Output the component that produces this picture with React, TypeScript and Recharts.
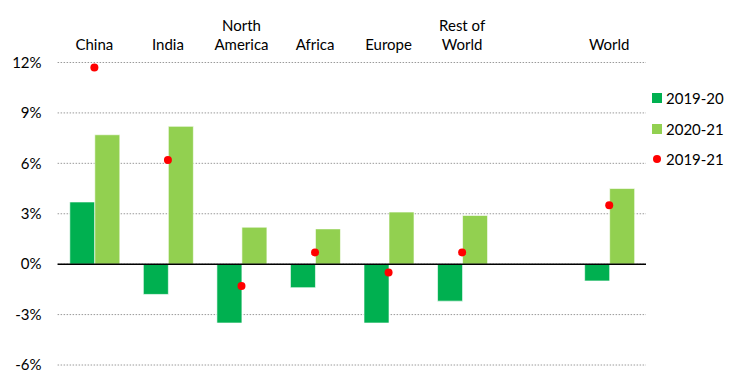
import { ComposedChart, Bar, Line, XAxis, YAxis, CartesianGrid, ReferenceLine } from 'recharts';

// Regions along the top axis; the blank slot separates World from the rest
const regions = ['China', 'India', 'North\nAmerica', 'Africa', 'Europe', 'Rest of\nWorld', ' ', 'World'];
const growth1920 = [3.7, -1.8, -3.5, -1.4, -3.5, -2.2, null, -1.0];
const growth2021 = [7.7, 8.2, 2.2, 2.1, 3.1, 2.9, null, 4.5];
const growth1921 = [11.7, 6.2, -1.3, 0.7, -0.5, 0.7, null, 3.5];
const yTicks = [-6, -3, 0, 3, 6, 9, 12];

const DARK_GREEN = '#00B050';
const LIGHT_GREEN = '#92D050';
const RED = '#FF0000';
const FONT = 'Lato, "Open Sans", sans-serif';

const data = regions.map((region, i) => ({
    region,
    a: growth1920[i],
    b: growth2021[i],
    c: growth1921[i],
}));

function RegionTick(props: any) {
    const { x, y, payload } = props;
    const lines = String(payload.value).split('\n');
    return (
        <text x={x} y={y} textAnchor="middle" fill="#000" fontSize={15} fontFamily={FONT}>
            {lines.map((line, i) => (
                <tspan key={i} x={x} dy={i === 0 ? -12.5 - (lines.length - 1) * 19.5 : 19.5}>
                    {line}
                </tspan>
            ))}
        </text>
    );
}

function LegendBox() {
    const items = [
        { label: '2019-20', color: DARK_GREEN, round: false },
        { label: '2020-21', color: LIGHT_GREEN, round: false },
        { label: '2019-21', color: RED, round: true },
    ];
    return (
        <div style={{ position: 'absolute', left: 652, top: 83, fontFamily: FONT, fontSize: 15, color: '#000' }}>
            {items.map((it) => (
                <div key={it.label} style={{ display: 'flex', alignItems: 'center', height: 30.5 }}>
                    <span
                        style={{
                            display: 'inline-block',
                            width: it.round ? 8 : 10,
                            height: it.round ? 8 : 10,
                            margin: it.round ? '0 5px 0 1px' : '0 4px 0 0',
                            borderRadius: it.round ? '50%' : 0,
                            backgroundColor: it.color,
                        }}
                    />
                    <span>{it.label}</span>
                </div>
            ))}
        </div>
    );
}

export default function App() {
    return (
        <div style={{ position: 'relative', width: 739, height: 387, background: '#fff' }}>
            <style>{'body{margin:0}'}</style>
            <ComposedChart
                width={739}
                height={387}
                data={data}
                margin={{ top: 0, right: 93, bottom: 22, left: 0 }}
                barGap={0}
                barCategoryGap="16.6%"
            >
                <CartesianGrid vertical={false} stroke="#9a9a9a" strokeDasharray="1.5 1.5" />
                <XAxis
                    dataKey="region"
                    orientation="top"
                    height={62.5}
                    axisLine={false}
                    tickLine={false}
                    tickSize={0}
                    tickMargin={0}
                    interval={0}
                    tick={<RegionTick />}
                />
                <YAxis
                    domain={[-6, 12]}
                    ticks={yTicks}
                    width={57.6}
                    axisLine={false}
                    tickLine={false}
                    tickSize={0}
                    tickMargin={16}
                    tickFormatter={(v: number) => `${v}%`}
                    tick={{ fill: '#000', fontSize: 15, fontFamily: FONT }}
                    interval={0}
                />
                <ReferenceLine y={0} stroke="#000" strokeWidth={1.5} />
                <Bar dataKey="a" fill={DARK_GREEN} stroke="#ffffff" strokeOpacity={0.6} isAnimationActive={false} />
                <Bar dataKey="b" fill={LIGHT_GREEN} stroke="#ffffff" strokeOpacity={0.6} isAnimationActive={false} />
                <Line
                    dataKey="c"
                    stroke="none"
                    dot={{ r: 4, fill: RED, stroke: 'none' }}
                    activeDot={false}
                    isAnimationActive={false}
                />
            </ComposedChart>
            <LegendBox />
        </div>
    );
}
